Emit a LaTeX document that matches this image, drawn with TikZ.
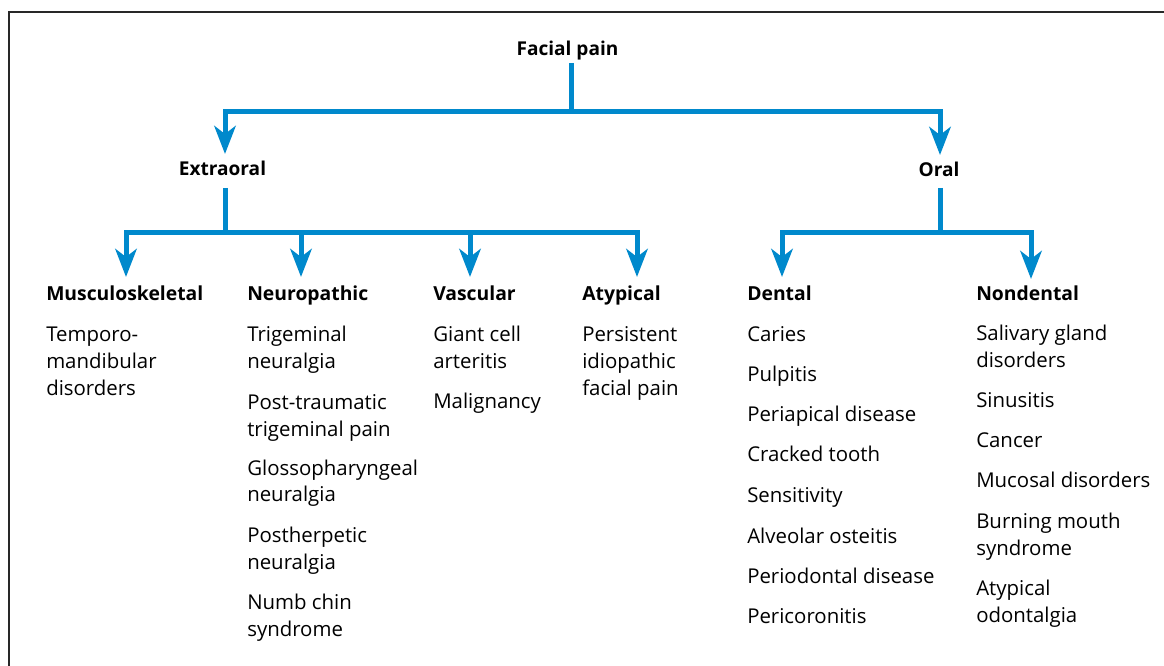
\documentclass[tikz,border=0pt]{standalone}
\usepackage{fontspec}
\setmainfont{Open Sans}
\usetikzlibrary{arrows.meta}
\definecolor{treeblue}{RGB}{0,137,204}
\definecolor{framegray}{RGB}{40,40,40}
\tikzset{
  link/.style={draw=treeblue, line width=3.75pt},
  arr/.style={link, -{Stealth[length=21pt,width=16pt,inset=6pt]}},
  headtxt/.style={anchor=base west, inner sep=0pt, font=\fontsize{14.5}{20.25}\selectfont\bfseries},
  toptxt/.style={anchor=base, inner sep=0pt, font=\fontsize{14.3}{20.25}\selectfont\bfseries},
  itemtxt/.style={anchor=base west, inner sep=0pt, align=left, font=\fontsize{15.3}{20.25}\selectfont},
}
\begin{document}
\begin{tikzpicture}[x=0.75pt, y=-0.75pt]
\useasboundingbox (0,0) rectangle (1164,666);
% frame
\draw[framegray, line width=1pt] (9,666) -- (9,12) -- (1164,12);

% top levels
\node[toptxt] (fp) at (567.5,56) {Facial pain};
\node[toptxt] (ex) at (222.5,176) {Extraoral};
\node[toptxt] (or) at (939,177) {Oral};

\coordinate (fpTop) at (571,63);
\coordinate (fpJ) at (571,111.5);
\coordinate (exTip) at (225,154);
\coordinate (orTip) at (940,155);
\draw[link] (fpTop) -- (fpJ);
\draw[arr] (fpJ) -| (exTip);
\draw[arr] (fpJ) -| (orTip);

\coordinate (exTop) at (225,188);
\coordinate (exJ) at (225,233);
\coordinate (muTip) at (126,277);
\coordinate (neTip) at (301,277);
\coordinate (vaTip) at (470,277);
\coordinate (atTip) at (637,277);
\draw[link] (exTop) -- (exJ);
\draw[arr] (exJ) -| (muTip);
\draw[arr] (exJ) -| (neTip);
\draw[arr] (exJ) -| (vaTip);
\draw[arr] (exJ) -| (atTip);

\coordinate (orTop) at (940,188);
\coordinate (orJ) at (940,233);
\coordinate (deTip) at (782,277);
\coordinate (ndTip) at (1031,279);
\draw[link] (orTop) -- (orJ);
\draw[arr] (orJ) -| (deTip);
\draw[arr] (orJ) -| (ndTip);

% column headings
\node[headtxt] (mu) at (46,301) {Musculoskeletal};
\node[headtxt] (ne) at (247,301) {Neuropathic};
\node[headtxt] (va) at (433,301) {Vascular};
\node[headtxt] (at) at (582,301) {Atypical};
\node[headtxt] (de) at (747,301) {Dental};
\node[headtxt] (nd) at (976,301) {Nondental};

% (multi-line nodes: base anchor = last line's baseline)
% Musculoskeletal
\node[itemtxt] (mu1) at (46,396) {Temporo-\\mandibular\\disorders};
% Neuropathic
\node[itemtxt] (ne1) at (247,369) {Trigeminal\\neuralgia};
\node[itemtxt] (ne2) at (247,436) {Post-traumatic\\trigeminal pain};
\node[itemtxt] (ne3) at (247,502) {Glossopharyngeal\\neuralgia};
\node[itemtxt] (ne4) at (247,569) {Postherpetic\\neuralgia};
\node[itemtxt] (ne5) at (247,636) {Numb chin\\syndrome};
% Vascular
\node[itemtxt] (va1) at (433,369) {Giant cell\\arteritis};
\node[itemtxt] (va2) at (433,409) {Malignancy};
% Atypical
\node[itemtxt] (at1) at (582,396) {Persistent\\idiopathic\\facial pain};
% Dental
\node[itemtxt] (de1) at (747,342) {Caries};
\node[itemtxt] (de2) at (747,382) {Pulpitis};
\node[itemtxt] (de3) at (747,422) {Periapical disease};
\node[itemtxt] (de4) at (747,462) {Cracked tooth};
\node[itemtxt] (de5) at (747,503) {Sensitivity};
\node[itemtxt] (de6) at (747,543) {Alveolar osteitis};
\node[itemtxt] (de7) at (747,583) {Periodontal disease};
\node[itemtxt] (de8) at (747,623) {Pericoronitis};
% Nondental
\node[itemtxt] (nd1) at (976,368) {Salivary gland\\disorders};
\node[itemtxt] (nd2) at (976,408) {Sinusitis};
\node[itemtxt] (nd3) at (976,448) {Cancer};
\node[itemtxt] (nd4) at (976,488) {Mucosal disorders};
\node[itemtxt] (nd5) at (976,555) {Burning mouth\\syndrome};
\node[itemtxt] (nd6) at (976,622) {Atypical\\odontalgia};
\end{tikzpicture}
\end{document}
